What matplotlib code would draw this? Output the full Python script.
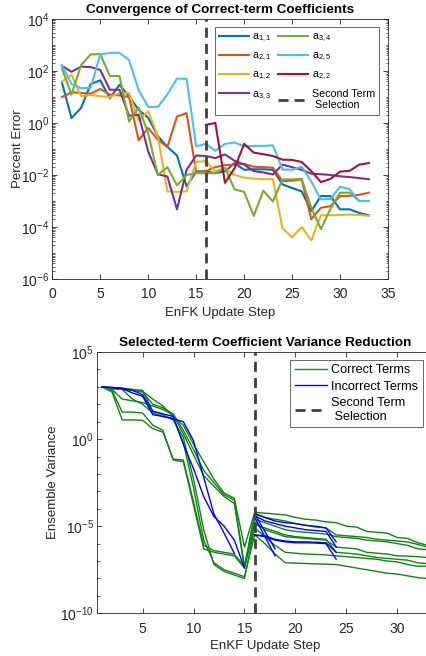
import numpy as np
import matplotlib
matplotlib.use('Agg')
import matplotlib.pyplot as plt
from matplotlib.ticker import FixedLocator, LogFormatterSciNotation, NullFormatter

plt.rcParams['font.family'] = ['Liberation Sans', 'DejaVu Sans']
plt.rcParams['mathtext.fontset'] = 'custom'
plt.rcParams['mathtext.rm'] = 'Liberation Sans'
plt.rcParams['mathtext.default'] = 'regular'

# ---- top chart: percent error (log10 values) ----
steps = np.arange(1, 34)
a11 = [1.56, 0.19, 0.58, 1.5, 1.64, 0.95, 1.47, 1.03, 0.51, 0.2, -0.5, -0.92, -1.25, -2.44, -1.86, -1.86, -1.93,
       -1.86, -1.54, -1.80, -1.78, -1.78, -1.80, -2.36, -2.5, -2.63, -3.39, -2.81, -2.81, -3.32, -3.32, -3.46, -3.55]
a21 = [1.0, 1.18, 1.16, 1.13, 1.31, 1.09, 1.06, 1.0, -0.66, -0.19, -0.64, -0.92, 0.25, 0.38, -1.9, -1.85, -1.7,
       -1.62, -1.6, -1.57, -1.68, -1.7, -1.72, -2.24, -2.22, -2.17, -3.7, -3.26, -3.2, -2.81, -2.8, -2.76, -2.68]
a12 = [1.6, 1.85, 1.03, 1.08, 1.03, 1.0, 1.15, 1.15, 0.1, 0.45, -0.5, -2.63, -2.65, -2.63, -1.5, -1.47, -1.85,
       -1.74, -2.0, -2.1, -2.14, -2.16, -2.16, -4.05, -4.4, -4.0, -4.52, -3.55, -3.55, -3.54, -3.52, -3.54, -3.57]
a33 = [2.2, 1.97, 2.17, 2.15, 2.04, 1.28, 1.28, 0.28, 0.32, -1.1, -1.97, -2.06, -3.32, -1.8, -1.25, -1.27, -1.35,
       -1.21, -1.45, -1.6, -1.85, -1.9, -1.98, -1.6, -1.7, -1.8, -1.95, -1.97, -2.0, -2.05, -2.08, -2.12, -2.16]
a34 = [2.1, 1.09, 2.23, 2.64, 2.65, 1.81, 1.81, 0.06, 0.6, -0.4, -2.0, -1.7, -2.4, -2.0, -1.93, -1.93, -1.93,
       -1.72, -2.55, -2.65, -3.57, -2.6, -3.02, -2.17, -2.17, -2.15, -3.25, -4.08, -3.3, -2.68, -2.68, -3.0, -3.0]
a25 = [2.23, 1.5, 1.34, 1.36, 2.63, 2.7, 2.7, 2.42, 1.27, 0.62, 0.62, 1.1, 1.71, 1.7, -0.9, -0.8, -1.07,
       -0.8, -0.75, -0.9, -0.88, -0.88, -0.86, -1.79, -1.8, -1.68, -2.25, -2.94, -2.92, -2.45, -2.55, -3.0, -3.0]
steps22 = np.arange(16, 34)
a22 = [-0.07, 0.0, -2.3, -1.74, -0.8, -1.14, -1.2, -1.27, -1.41, -1.42, -1.5, -1.85, -2.27, -2.15, -1.87,
       -1.84, -1.6, -1.54]
top_series = [(steps, a11, 'a$_{1,1}$'), (steps, a21, 'a$_{2,1}$'), (steps, a12, 'a$_{1,2}$'),
              (steps, a33, 'a$_{3,3}$'), (steps, a34, 'a$_{3,4}$'), (steps, a25, 'a$_{2,5}$'),
              (steps22, a22, 'a$_{2,2}$')]
matlab_colors = ['#0072BD', '#D95319', '#EDB120', '#7E2F8E', '#77AC30', '#4DBEEE', '#A2142F']
selection_step = 16

# ---- bottom chart: ensemble variance (log10 values) ----
correct_terms = [
    [3.0, 2.95, 2.9, 2.85, 2.75, 2.3, 1.9, 1.3, 0.8, -0.3, -1.3, -2.3, -3.1, -3.4, -6.2,
     -4.2, -4.25, -4.3, -4.35, -4.5, -4.6, -4.65, -4.75, -4.8, -5.0, -5.05, -5.3, -5.35, -5.4, -5.65, -5.7, -5.95, -6.1],
    [3.0, 2.9, 2.85, 2.8, 2.7, 2.0, 1.8, 1.45, 0.5, -0.6, -1.8, -2.5, -3.2, -3.5, -7.3,
     -4.25, -4.5, -4.6, -4.7, -4.85, -4.95, -5.05, -5.1, -5.5, -5.55, -5.6, -5.65, -5.75, -5.8, -5.85, -5.9, -6.05, -6.2],
    [3.0, 2.85, 2.3, 2.2, 2.1, 1.9, 1.7, 1.4, 0.3, -0.9, -2.1, -2.7, -3.3, -3.7, -7.4,
     -4.6, -4.8, -5.0, -5.2, -5.3, -5.35, -5.4, -5.45, -5.6, -5.65, -5.7, -5.8, -5.85, -5.9, -6.0, -6.1, -6.3, -6.35],
    [3.0, 2.7, 1.1, 1.1, 1.08, 0.6, 0.4, -1.15, -1.2, -3.6, -6.1, -6.4, -6.5, -6.6, -7.3,
     -4.75, -5.2, -5.4, -5.6, -5.65, -5.7, -5.75, -5.8, -6.2, -6.25, -6.3, -6.5, -6.55, -6.6, -6.7, -6.72, -6.75, -6.8],
    [3.0, 2.8, 1.55, 1.55, 1.5, 0.8, 0.5, -1.2, -1.3, -3.8, -6.3, -6.5, -6.6, -6.7, -7.4,
     -4.9, -5.1, -5.3, -5.5, -5.6, -5.65, -5.7, -5.75, -6.5, -6.55, -6.6, -6.7, -6.8, -6.85, -6.9, -6.95, -7.1, -7.15],
    [3.0, 2.95, 2.9, 2.85, 2.8, 1.6, 1.4, 1.1, 0.1, -2.3, -5.2, -7.2, -7.6, -7.8, -8.0,
     -5.1, -5.6, -6.1, -6.5, -6.55, -6.6, -6.62, -6.65, -6.7, -6.75, -6.8, -6.85, -6.9, -7.0, -7.05, -7.2, -7.3, -7.3],
    [3.0, 2.9, 2.85, 2.3, 2.0, 1.5, 1.3, 1.2, -0.2, -2.8, -5.8, -7.1, -7.5, -7.7, -7.9,
     -5.5, -6.0, -6.6, -7.1, -7.12, -7.14, -7.16, -7.18, -7.2, -7.3, -7.4, -7.5, -7.6, -7.7, -7.75, -7.85, -7.95, -8.0],
]
incorrect_starts = [1, 1, 16, 16, 16, 16, 16, 16]
incorrect_terms = [
    [3.0, 2.95, 2.9, 2.65, 2.46, 1.4, 1.3, 1.15, 1.0, -0.1, -2.2, -4.3, -5.4, -6.55],
    [3.0, 2.97, 2.93, 2.8, 2.55, 1.6, 1.45, 1.3, -0.3, -1.7, -3.3, -4.45, -5.0, -5.8, -7.4],
    [-4.3, -4.5, -4.7, -4.8, -4.85, -4.95, -5.0, -5.1, -5.9],
    [-4.4, -4.7, -4.85, -5.0, -5.1, -5.2, -5.25, -5.3, -6.2],
    [-5.5, -5.55, -5.75, -5.85, -5.9, -5.9, -5.92, -5.95, -6.5],
    [-5.5, -5.6, -5.8, -5.9, -5.95, -5.95, -5.97, -6.0, -6.9],
    [-4.3, -5.3, -6.3],
    [-4.5, -5.6, -6.7],
]

txt = '#262626'
fig = plt.figure(figsize=(4.27, 6.56), dpi=100)


def style_axes(ax):
    for s in ax.spines.values():
        s.set_color(txt)
        s.set_linewidth(0.6)
    ax.tick_params(which='both', direction='in', top=True, right=True, colors=txt, labelsize=10)
    ax.tick_params(which='major', length=3.5, width=0.6)
    ax.tick_params(which='minor', length=1.8, width=0.5)
    ax.tick_params(axis='x', pad=6)
    ax.tick_params(axis='y', pad=2)


# top axes
ax1 = fig.add_axes([0.1225, 0.5747, 0.7862, 0.3963])
for (xs, vals, lab), c in zip(top_series, matlab_colors):
    ax1.plot(xs, 10.0 ** np.array(vals), color=c, lw=1.5, label=lab)
ax1.axvline(selection_step, color='#404040', lw=2, ls=(0, (3.6, 2.2)), label='Second Term\n Selection')
ax1.set_yscale('log')
ax1.set_xlim(0, 35)
ax1.set_ylim(1e-6, 1e4)
ax1.set_xticks(range(0, 36, 5))
ax1.yaxis.set_major_locator(FixedLocator([10.0 ** e for e in range(-6, 5, 2)]))
ax1.yaxis.set_major_formatter(LogFormatterSciNotation())
minor1 = [k * 10.0 ** e for e in range(-6, 4) for k in range(1, 10) if not (k == 1 and e % 2 == 0)]
ax1.yaxis.set_minor_locator(FixedLocator(minor1))
ax1.yaxis.set_minor_formatter(NullFormatter())
style_axes(ax1)
ax1.set_title('Convergence of Correct-term Coefficients', fontsize=9.7, fontweight='bold', color='black', pad=4)
ax1.set_xlabel('EnFK Update Step', fontsize=9.5, color=txt, labelpad=4)
ax1.set_ylabel('Percent Error', fontsize=9.5, color=txt, labelpad=-2)
leg1 = ax1.legend(ncol=2, loc='upper right', bbox_to_anchor=(0.973, 0.969), fontsize=7.7, frameon=True,
                  fancybox=False, edgecolor=txt, handlelength=2.8, handletextpad=0.3, columnspacing=0.6,
                  labelspacing=0.6, borderpad=0.4, borderaxespad=0)
leg1.get_frame().set_linewidth(0.6)

# bottom axes
ax2 = fig.add_axes([0.2265, 0.0651, 0.7876, 0.3983])
green = '#108510'
blue = '#0000ff'
for i, vals in enumerate(correct_terms):
    ax2.plot(steps, 10.0 ** np.array(vals), color=green, lw=1.0, label='Correct Terms' if i == 0 else None)
for i, (s0, vals) in enumerate(zip(incorrect_starts, incorrect_terms)):
    xs = np.arange(s0, s0 + len(vals))
    ax2.plot(xs, 10.0 ** np.array(vals), color=blue, lw=1.0, label='Incorrect Terms' if i == 0 else None)
ax2.axvline(selection_step, color='#404040', lw=2, ls=(0, (3.6, 2.2)), label='Second Term\n Selection')
ax2.set_yscale('log')
ax2.set_xlim(0.5, 33.5)
ax2.set_ylim(1e-10, 1e5)
ax2.set_xticks(range(5, 35, 5))
ax2.yaxis.set_major_locator(FixedLocator([1e-10, 1e-5, 1e0, 1e5]))
ax2.yaxis.set_major_formatter(LogFormatterSciNotation())
ax2.yaxis.set_minor_locator(FixedLocator([10.0 ** e for e in range(-10, 6) if e % 5 != 0]))
ax2.yaxis.set_minor_formatter(NullFormatter())
style_axes(ax2)
ax2.set_title('Selected-term Coefficient Variance Reduction', fontsize=9.7, fontweight='bold', color='black', pad=4)
ax2.set_xlabel('EnKF Update Step', fontsize=9.5, color=txt, labelpad=3)
ax2.set_ylabel('Ensemble Variance', fontsize=9.5, color=txt, labelpad=1)
leg2 = ax2.legend(loc='upper right', bbox_to_anchor=(0.969, 0.970), fontsize=9.1, frameon=True,
                  fancybox=False, edgecolor=txt, handlelength=2.6, handletextpad=0.3,
                  labelspacing=0.35, borderpad=0.35, borderaxespad=0)
leg2.get_frame().set_linewidth(0.6)

fig.savefig('out.png', dpi=100)
plt.close('all')
